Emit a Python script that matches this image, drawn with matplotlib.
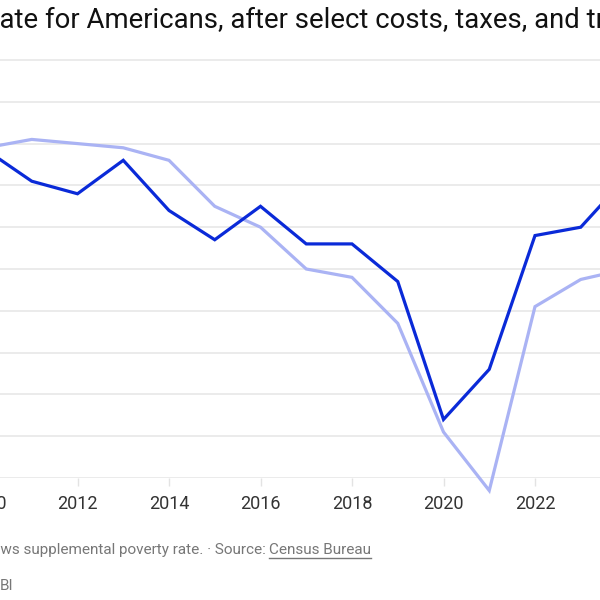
import numpy as np
import matplotlib.pyplot as plt
from matplotlib.lines import Line2D

# supplemental poverty rate, %
years = [2010, 2011, 2012, 2013, 2014, 2015, 2016, 2017, 2018, 2019, 2020, 2021, 2022, 2023, 2024]
dark_rate = [15.85, 15.1, 14.8, 15.6, 14.4, 13.7, 14.5, 13.6, 13.6, 12.7, 9.4, 10.6, 13.8, 14.0, 15.2]
light_rate = [15.9, 16.1, 16.0, 15.9, 15.6, 14.5, 14.0, 13.0, 12.8, 11.7, 9.1, 7.7, 12.1, 12.75, 13.0]
xticks = [2010, 2012, 2014, 2016, 2018, 2020, 2022, 2024]
yticks = list(range(8, 19))

title = "Poverty rate for Americans, after select costs, taxes, and transfers"
title_cut = "Poverty r"
note = "Note: Chart shows supplemental poverty rate. \u00b7 Source: "
note_cut = "Note: Chart sho"
source = "Census Bureau"
credit = "BI"

plt.rcParams['font.family'] = ['Roboto', 'DejaVu Sans']

W = 600.0
fig = plt.figure(figsize=(6, 6), dpi=100)

# the picture is a crop, so the axes run past both sides of the figure
px_per_year = 45.75
x2010 = -14.0
xlim = (2009.5, 2024.5)
left_px = x2010 + (xlim[0] - 2010) * px_per_year
right_px = x2010 + (xlim[1] - 2010) * px_per_year
px_per_pt = 41.8
y8 = 478.0
ylim = (8, 18.2)
bot_px = y8 - (ylim[0] - 8) * px_per_pt
top_px = y8 - (ylim[1] - 8) * px_per_pt
ax = fig.add_axes([left_px / W, 1 - bot_px / W, (right_px - left_px) / W, (bot_px - top_px) / W])

ax.plot(years, light_rate, color='#aab3f4', lw=2.3, solid_joinstyle='miter', zorder=3, clip_on=False)
ax.plot(years, dark_rate, color='#0a2ad8', lw=2.3, solid_joinstyle='miter', zorder=4, clip_on=False)

ax.set_xlim(xlim)
ax.set_ylim(ylim)
ax.set_xticks(xticks)
ax.set_yticks(yticks)
ax.set_yticklabels([])
ax.grid(axis='y', color='#e8e8e8', lw=1.2, zorder=0)
for s in ax.spines.values():
    s.set_visible(False)
ax.tick_params(axis='y', length=0)
ax.tick_params(axis='x', length=6, width=1, color='#e3e3e3', labelsize=13, labelcolor='#333333', pad=6)
ax.set_facecolor('white')

renderer = fig.canvas.get_renderer()

def cut_width(s, **kw):
    t = fig.text(0, 0, s, **kw)
    w = t.get_window_extent(renderer).width
    t.remove()
    return w

title_kw = dict(fontsize=19.8, color='#111111')
w = cut_width(title_cut, **title_kw)
fig.text(-w / W, 1 - 28.5 / W, title, va='baseline', ha='left', **title_kw)

note_kw = dict(fontsize=11, color='#777777')
w = cut_width(note_cut, **note_kw)
x0 = -w / W
fig.text(x0, 1 - 554 / W, note, va='baseline', ha='left', **note_kw)
w_note = cut_width(note, **note_kw)
xs = x0 + w_note / W
t = fig.text(xs, 1 - 554 / W, source, va='baseline', ha='left', **note_kw)
w_src = t.get_window_extent(renderer).width
fig.add_artist(Line2D([xs, xs + w_src / W], [1 - 557.5 / W] * 2, color='#777777', lw=1))

fig.text(0, 1 - 590 / W, credit, va='baseline', ha='left', fontsize=11, color='#777777')

fig.savefig('out.png', dpi=100, facecolor='white')
